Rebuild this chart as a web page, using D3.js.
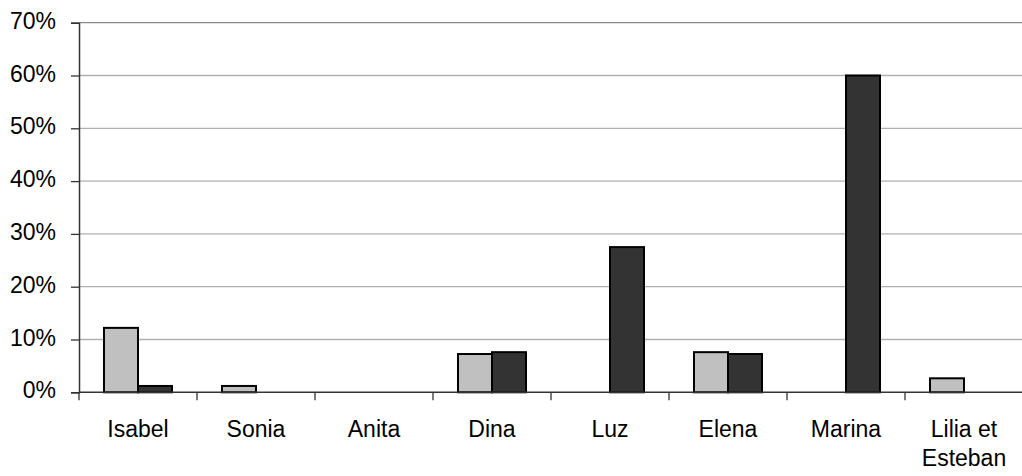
<!DOCTYPE html>
<html><head><meta charset="utf-8">
<script src="https://cdn.jsdelivr.net/npm/d3@7/dist/d3.min.js"></script>
<style>body{margin:0;background:#fff}svg{display:block;font-family:"Liberation Sans",Arial,sans-serif}</style>
</head><body>
<svg id="c" width="1022" height="476"></svg>
<script>
const categories = ["Isabel","Sonia","Anita","Dina","Luz","Elena","Marina","Lilia et|Esteban"];
const seriesLight = [12.2, 1.2, 0, 7.25, 0, 7.6, 0, 2.65];
const seriesDark  = [1.2, 0, 0, 7.6, 27.5, 7.25, 60, 0];
const yTicks = [0,10,20,30,40,50,60,70];

const svg = d3.select("#c");
const L = 79, R = 1023, T = 22.7, B = 392.3;
const x = d3.scaleBand().domain(categories).range([L, R]).paddingInner(0).paddingOuter(0);
const y = d3.scaleLinear().domain([0,70]).range([B, T]);
const inner = d3.scaleBand().domain([0,1]).range([0, x.bandwidth()]).paddingInner(0).paddingOuter(0.735);

// gridlines
svg.append("g").selectAll("line").data(yTicks.filter(d=>d>0)).join("line")
  .attr("x1", L).attr("x2", R).attr("y1", d=>y(d)).attr("y2", d=>y(d))
  .attr("stroke", d=> d===70 ? "#8a8a8a" : "#b0b0b0").attr("stroke-width", 1.3);

// bars
const series = [{vals: seriesLight, fill:"#c0c0c0"},{vals: seriesDark, fill:"#333333"}];
series.forEach((s,si)=>{
  svg.append("g").selectAll("rect").data(categories.map((c,i)=>({c, v:s.vals[i]})).filter(d=>d.v>0)).join("rect")
    .attr("x", d=>x(d.c)+inner(si)).attr("width", inner.bandwidth())
    .attr("y", d=>y(d.v)).attr("height", d=>y(0)-y(d.v))
    .attr("fill", s.fill).attr("stroke", "#000").attr("stroke-width", 2);
});

// y axis
const yAxis = d3.axisLeft(y).tickValues(yTicks).tickFormat(d=>d+"%").tickSize(8).tickPadding(15);
const gy = svg.append("g").attr("transform", `translate(${L},0)`).call(yAxis);
gy.select(".domain").attr("stroke","#333").attr("stroke-width",1.5);
gy.selectAll(".tick line").attr("stroke","#333").attr("stroke-width",1.3);
gy.selectAll("text").attr("fill","#000").style("font-size","23px").attr("dy","0.24em");

// x axis
svg.append("line").attr("x1",L).attr("x2",R).attr("y1",B).attr("y2",B).attr("stroke","#333").attr("stroke-width",1.5);
const bounds = categories.map(c=>x(c));
svg.append("g").selectAll("line").data(bounds).join("line")
  .attr("x1",d=>d).attr("x2",d=>d).attr("y1",B).attr("y2",B+8).attr("stroke","#333").attr("stroke-width",1.3);
const gx = svg.append("g");
categories.forEach(c=>{
  const t = gx.append("text").attr("text-anchor","middle").attr("fill","#000").style("font-size","23px")
    .attr("x", x(c)+x.bandwidth()/2).attr("y", 436.7);
  c.split("|").forEach((ln,i)=>{
    t.append("tspan").attr("x", x(c)+x.bandwidth()/2).attr("dy", i===0?0:29.5).text(ln);
  });
});
</script>
</body></html>
